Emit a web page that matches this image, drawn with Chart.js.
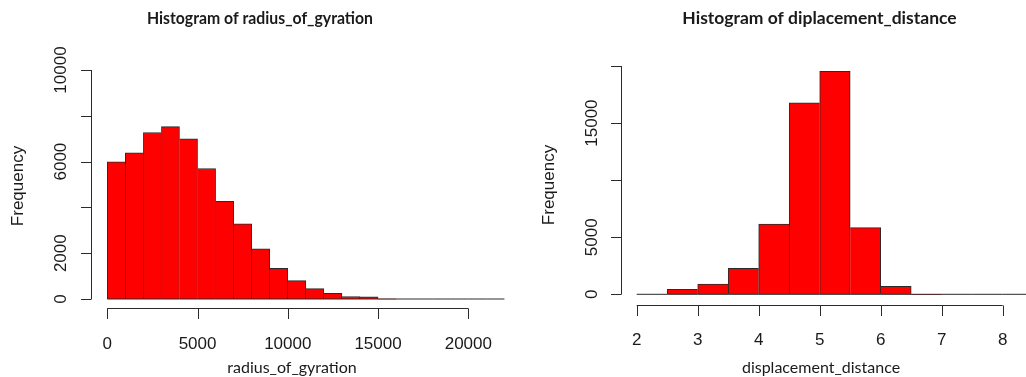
<!DOCTYPE html>
<html>
<head>
<meta charset="utf-8">
<script src="https://cdn.jsdelivr.net/npm/chart.js@4.4.1/dist/chart.umd.min.js"></script>
<style>
  html,body{margin:0;padding:0;background:#fff;overflow:hidden;width:1026px;height:377px;}
  .panel{position:absolute;top:0;width:530px;height:377px;}
  #left{left:0;}
  #right{left:530px;}
</style>
</head>
<body>
<div class="panel" id="left"><canvas id="gyrChart" width="530" height="377"></canvas></div>
<div class="panel" id="right"><canvas id="dispChart" width="530" height="377"></canvas></div>
<script>
// radius_of_gyration: bin edges (width 1000) and counts
const gyrBreaks = [0,1000,2000,3000,4000,5000,6000,7000,8000,9000,10000,11000,
  12000,13000,14000,15000,16000,17000,18000,19000,20000,21000,22000];
const gyrCounts = [5990,6380,7270,7530,6990,5700,4260,3280,2190,1340,800,450,
  250,110,90,0,0,0,0,0,0,0];
const gyrXTicks = [0,5000,10000,15000,20000];
const gyrYTicks = [0,2000,4000,6000,8000,10000];
const gyrYLabels = ['0','2000','','6000','','10000'];

// displacement_distance: bin edges (width 0.5) and counts
const dispBreaks = [2,2.5,3,3.5,4,4.5,5,5.5,6,6.5,7,7.5,8,8.5];
const dispCounts = [0,440,905,2280,6160,16780,19530,5840,700,0,0,0,0];
const dispXTicks = [2,3,4,5,6,7,8];
const dispYTicks = [0,5000,10000,15000,20000];
const dispYLabels = ['0','5000','','15000',''];

const TICK = 10.5;
const INK = '#2a2a2a';

function drawText(ctx, s, x, y, font, rot, maxW) {
  ctx.save();
  ctx.translate(x, y);
  if (rot) ctx.rotate(rot);
  ctx.font = font;
  ctx.textAlign = 'center';
  ctx.textBaseline = 'alphabetic';
  ctx.fillStyle = '#1a1a1a';
  if (maxW && ctx.measureText(s).width > maxW) ctx.fillText(s, 0, 0, maxW);
  else ctx.fillText(s, 0, 0);
  ctx.restore();
}

// R style axes: lines only span first..last tick, ticks point outwards
const rAxes = {
  id: 'rAxes',
  afterDraw(chart, args, o) {
    const { ctx, chartArea: a, scales: { x, y } } = chart;
    ctx.save();
    ctx.strokeStyle = INK;
    ctx.lineWidth = 1;
    ctx.beginPath();
    const xb = Math.round(a.bottom) + 0.5;
    ctx.moveTo(x.getPixelForValue(o.xTicks[0]), xb);
    ctx.lineTo(x.getPixelForValue(o.xTicks[o.xTicks.length - 1]), xb);
    o.xTicks.forEach(t => {
      const px = Math.round(x.getPixelForValue(t)) + 0.5;
      ctx.moveTo(px, xb); ctx.lineTo(px, xb + TICK);
    });
    const yl = Math.round(a.left) + 0.5;
    ctx.moveTo(yl, y.getPixelForValue(o.yTicks[0]));
    ctx.lineTo(yl, y.getPixelForValue(o.yTicks[o.yTicks.length - 1]));
    o.yTicks.forEach(t => {
      const py = Math.round(y.getPixelForValue(t)) + 0.5;
      ctx.moveTo(yl, py); ctx.lineTo(yl - TICK, py);
    });
    ctx.stroke();
    ctx.restore();

    const tickFont = '17px "Liberation Sans", Arial, sans-serif';
    o.xTicks.forEach(t => drawText(ctx, String(t), x.getPixelForValue(t), o.xLabelBase, tickFont));
    o.yTicks.forEach((t, i) => {
      if (o.yLabels[i]) drawText(ctx, o.yLabels[i], o.yLabelBase, y.getPixelForValue(t), tickFont, -Math.PI / 2);
    });
    drawText(ctx, 'Frequency', o.freqBase, o.freqMid, tickFont, -Math.PI / 2);
    drawText(ctx, o.xTitle, o.xTitleMid, o.xTitleBase, '16px Lato, "Open Sans", sans-serif', 0, o.xTitleW);
    drawText(ctx, o.title, o.titleMid, 24, 'bold 17.5px Lato, "Open Sans", sans-serif', 0, o.titleW);
  }
};

function makeHist(id, breaks, counts, xr, yr, pad, axes) {
  const bars = counts.map((c, i) => ({ x: (breaks[i] + breaks[i + 1]) / 2, y: c }));
  const base = breaks.map(b => ({ x: b, y: 0 }));
  return new Chart(document.getElementById(id), {
    type: 'bar',
    data: {
      datasets: [
        { type: 'line', data: base, borderColor: INK, borderWidth: 1, pointRadius: 0, order: 0 },
        {
          data: bars, order: 1,
          backgroundColor: '#ff0000',
          borderColor: INK,
          borderSkipped: false,
          borderWidth: ctx => {
            if (ctx.type !== 'data') return 1;
            const i = ctx.dataIndex, v = counts[i];
            const prev = i > 0 ? counts[i - 1] : 0;
            const next = i < counts.length - 1 ? counts[i + 1] : 0;
            return { top: 1, bottom: 0, left: prev <= v ? 1 : 0, right: next < v ? 1 : 0 };
          },
          barPercentage: 1,
          categoryPercentage: 1
        }
      ]
    },
    options: {
      responsive: false,
      devicePixelRatio: 1,
      animation: false,
      layout: { padding: pad },
      scales: {
        x: { type: 'linear', display: false, offset: false, min: xr[0], max: xr[1],
             ticks: { stepSize: xr[2], includeBounds: false } },
        y: { display: false, min: yr[0], max: yr[1] }
      },
      plugins: {
        legend: { display: false },
        tooltip: { enabled: false },
        rAxes: axes
      }
    },
    plugins: [rAxes]
  });
}

makeHist('gyrChart', gyrBreaks, gyrCounts, [-880, 22880, 5000], [-400, 10400],
  { left: 91.4, right: 9.7, top: 60.84, bottom: 68.84 },
  { xTicks: gyrXTicks, yTicks: gyrYTicks, yLabels: gyrYLabels,
    xLabelBase: 349, yLabelBase: 66, freqBase: 22.5, freqMid: 186,
    xTitle: 'radius_of_gyration', xTitleMid: 292, xTitleBase: 373, xTitleW: 137,
    title: 'Histogram of radius_of_gyration', titleMid: 260, titleW: 226 });

makeHist('dispChart', dispBreaks, dispCounts, [1.74, 8.76, 1], [-937, 20500],
  { left: 90.84, right: 10.94, top: 60.3, bottom: 72 },
  { xTicks: dispXTicks, yTicks: dispYTicks, yLabels: dispYLabels,
    xLabelBase: 345, yLabelBase: 67, freqBase: 24, freqMid: 185,
    xTitle: 'displacement_distance', xTitleMid: 291, xTitleBase: 373, xTitleW: 168,
    title: 'Histogram of diplacement_distance', titleMid: 289.5, titleW: 278 });
</script>
</body>
</html>
